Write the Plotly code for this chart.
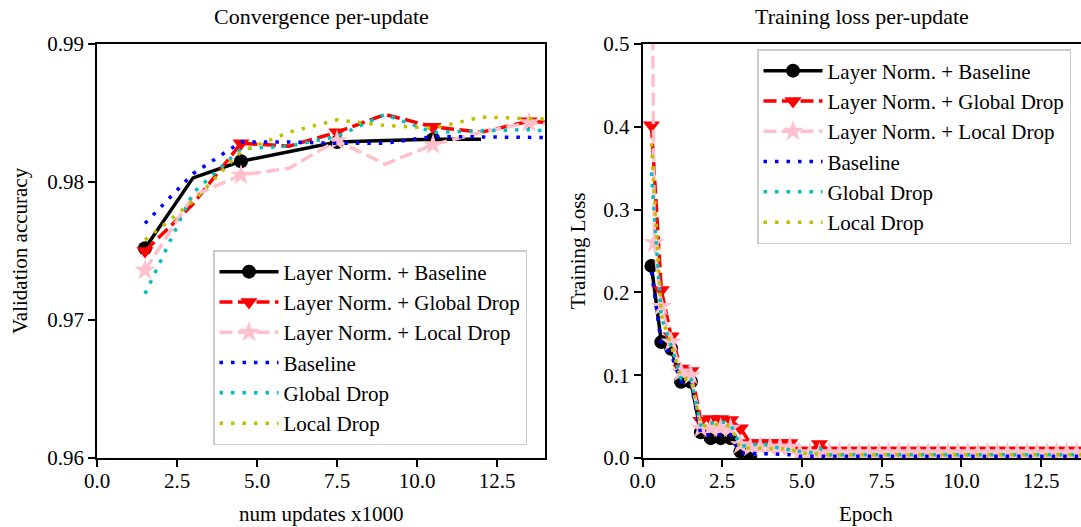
import plotly.graph_objects as go

# ---------------- left panel: validation accuracy vs. updates ----------------
updates = [1.5, 3.0, 4.5, 6.0, 7.5, 9.0, 10.5, 12.0, 13.5, 15.0]
acc_ln_baseline = [0.9752, 0.9803, 0.9815, 0.9822, 0.9829, 0.9830, 0.9831, 0.9831]
acc_ln_global = [0.9750, 0.9784, 0.9828, 0.9826, 0.9836, 0.9849, 0.9840, 0.9836, 0.9844, 0.9842]
acc_ln_local = [0.9736, 0.9790, 0.9805, 0.9810, 0.9830, 0.9813, 0.9827, 0.9836, 0.9843, 0.9841]
acc_baseline = [0.9770, 0.9806, 0.9829, 0.9829, 0.9828, 0.9828, 0.9833, 0.9833, 0.9833, 0.9832]
acc_global = [0.9719, 0.9792, 0.9824, 0.9826, 0.9833, 0.9849, 0.9836, 0.9837, 0.9838, 0.9835]
acc_local = [0.9758, 0.9786, 0.9822, 0.9836, 0.9845, 0.9841, 0.9839, 0.9847, 0.9846, 0.9845]

# ---------------- right panel: training loss vs. epoch ----------------
epochs = [0.28, 0.59, 0.90, 1.21, 1.52, 1.83, 2.14, 2.45, 2.76, 3.07,
          3.38, 3.69, 4.00, 4.31, 4.62, 4.93, 5.24, 5.55, 5.86, 6.17,
          6.48, 6.79, 7.10, 7.41, 7.72, 8.03, 8.34, 8.65, 8.96, 9.27,
          9.58, 9.89, 10.20, 10.51, 10.82, 11.13, 11.44, 11.75, 12.06, 12.37,
          12.68, 12.99, 13.30, 13.61, 13.92]
epochs_ln_local = [0.30, 0.37, 0.59, 0.90, 1.21, 1.52, 1.83, 2.14, 2.45, 2.76,
                   3.07, 3.38, 3.69, 4.00, 4.31, 4.62, 4.93, 5.24, 5.55, 5.86,
                   6.17, 6.48, 6.79, 7.10, 7.41, 7.72, 8.03, 8.34, 8.65, 8.96,
                   9.27, 9.58, 9.89, 10.20, 10.51, 10.82, 11.13, 11.44, 11.75, 12.06,
                   12.37, 12.68, 12.99, 13.30, 13.61, 13.92]

loss_ln_baseline = [0.232, 0.140, 0.132, 0.092, 0.092, 0.031, 0.024, 0.024, 0.024, 0.008,
                    0.003]
loss_ln_global = [0.402, 0.203, 0.147, 0.108, 0.105, 0.045, 0.047, 0.047, 0.046, 0.036,
                  0.018, 0.018, 0.018, 0.018, 0.018, 0.009, 0.009, 0.017, 0.009, 0.009,
                  0.009, 0.009, 0.009, 0.009, 0.009, 0.009, 0.009, 0.009, 0.009, 0.009,
                  0.009, 0.009, 0.009, 0.009, 0.009, 0.009, 0.009, 0.009, 0.009, 0.009,
                  0.009, 0.009, 0.009, 0.009, 0.009]
loss_ln_local = [0.620, 0.260, 0.183, 0.140, 0.104, 0.100, 0.036, 0.036, 0.036, 0.036,
                 0.016, 0.013, 0.013, 0.013, 0.013, 0.013, 0.006, 0.006, 0.006, 0.006,
                 0.006, 0.006, 0.006, 0.006, 0.006, 0.006, 0.006, 0.006, 0.006, 0.006,
                 0.006, 0.006, 0.006, 0.006, 0.006, 0.006, 0.006, 0.006, 0.006, 0.006,
                 0.006, 0.006, 0.006, 0.006, 0.006, 0.006]
loss_baseline = [0.225, 0.138, 0.125, 0.092, 0.090, 0.028, 0.028, 0.028, 0.028, 0.006,
                 0.005, 0.005, 0.005, 0.005, 0.004, 0.002, 0.002, 0.002, 0.002, 0.002,
                 0.002, 0.002, 0.002, 0.002, 0.002, 0.002, 0.002, 0.002, 0.002, 0.002,
                 0.002, 0.002, 0.002, 0.002, 0.002, 0.002, 0.002, 0.002, 0.002, 0.002,
                 0.002, 0.002, 0.002, 0.002, 0.002]
loss_global = [0.345, 0.170, 0.135, 0.096, 0.095, 0.040, 0.042, 0.044, 0.041, 0.015,
               0.014, 0.019, 0.014, 0.012, 0.010, 0.007, 0.006, 0.012, 0.004, 0.004,
               0.004, 0.004, 0.004, 0.004, 0.004, 0.004, 0.004, 0.004, 0.004, 0.004,
               0.004, 0.004, 0.004, 0.004, 0.004, 0.004, 0.004, 0.004, 0.004, 0.004,
               0.004, 0.004, 0.004, 0.004, 0.004]
loss_local = [0.380, 0.172, 0.136, 0.096, 0.095, 0.038, 0.040, 0.041, 0.038, 0.012,
              0.012, 0.012, 0.012, 0.011, 0.011, 0.006, 0.005, 0.005, 0.004, 0.004,
              0.004, 0.004, 0.004, 0.004, 0.004, 0.004, 0.004, 0.004, 0.004, 0.004,
              0.004, 0.004, 0.004, 0.004, 0.004, 0.004, 0.004, 0.004, 0.004, 0.004,
              0.004, 0.004, 0.004, 0.004, 0.004]

labels = ["Layer Norm. + Baseline", "Layer Norm. + Global Drop", "Layer Norm. + Local Drop",
          "Baseline", "Global Drop", "Local Drop"]

# ---------------- styling ----------------
W, H = 1081, 527
FONT = "Liberation Serif"
FS = 21
LW = 3.5
DASH = "13px,5.5px"
DOT = "3.5px,8px"

styles = [
    dict(color="#000000", dash="solid", symbol="circle", size=14),
    dict(color="#ff0000", dash=DASH, symbol="triangle-down", size=15),
    dict(color="#ffc0cb", dash=DASH, symbol="star", size=16),
    dict(color="#0000ff", dash=DOT, symbol=None, size=0),
    dict(color="#00bfbf", dash=DOT, symbol=None, size=0),
    dict(color="#bfbf00", dash=DOT, symbol=None, size=0),
]

fig = go.Figure()

left_series = [acc_ln_baseline, acc_ln_global, acc_ln_local, acc_baseline, acc_global, acc_local]
for name, ys, st in zip(labels, left_series, styles):
    xs = updates[:len(ys)]
    tr = dict(x=xs, y=ys, name=name, legend="legend", xaxis="x", yaxis="y",
              line=dict(color=st["color"], width=LW, dash=st["dash"]))
    if st["symbol"]:
        # marker on every other logged point; the rest are drawn as empty glyphs
        syms = [st["symbol"] if i % 2 == 0 else "line-ns" for i in range(len(xs))]
        tr.update(mode="lines+markers",
                  marker=dict(color=st["color"], size=st["size"], symbol=syms, line=dict(width=0)))
    else:
        tr.update(mode="lines")
    fig.add_trace(go.Scatter(**tr))

right_series = [(epochs, loss_ln_baseline), (epochs, loss_ln_global), (epochs_ln_local, loss_ln_local),
                (epochs, loss_baseline), (epochs, loss_global), (epochs, loss_local)]
for name, (xs_all, ys), st in zip(labels, right_series, styles):
    xs = xs_all[:len(ys)]
    tr = dict(x=xs, y=ys, name=name, legend="legend2", xaxis="x2", yaxis="y2",
              line=dict(color=st["color"], width=LW, dash=st["dash"]))
    if st["symbol"]:
        tr.update(mode="lines+markers",
                  marker=dict(color=st["color"], size=st["size"], symbol=st["symbol"], line=dict(width=0)))
    else:
        tr.update(mode="lines")
    fig.add_trace(go.Scatter(**tr))

axis_common = dict(showline=True, linecolor="black", linewidth=1.8, ticks="outside", ticklen=7,
                   tickwidth=1.6, tickcolor="black", showgrid=False, zeroline=False,
                   automargin=False,
                   tickfont=dict(family=FONT, size=FS, color="black"))

xticks = dict(tickmode="array", tickvals=[0, 2.5, 5, 7.5, 10, 12.5],
              ticktext=["0.0", "2.5", "5.0", "7.5", "10.0", "12.5"], ticklabelstandoff=-4)

ydom = [69 / H, 483 / H]
legend_common = dict(xanchor="left", yanchor="top", bgcolor="rgba(255,255,255,0.8)",
                     bordercolor="#cccccc", borderwidth=1.5, itemwidth=59,
                     font=dict(family=FONT, size=FS, color="black"))
fig.update_layout(
    width=W, height=H, margin=dict(l=0, r=0, t=0, b=0, autoexpand=False),
    paper_bgcolor="white", plot_bgcolor="white",
    font=dict(family=FONT, size=FS, color="black"),
    xaxis=dict(domain=[97 / W, 545 / W], range=[0, 14], mirror=True, anchor="y",
               **xticks, **axis_common),
    yaxis=dict(domain=ydom, range=[0.96, 0.99], tickmode="array",
               tickvals=[0.96, 0.97, 0.98, 0.99], ticktext=["0.96", "0.97", "0.98", "0.99"],
               mirror=True, anchor="x", **axis_common),
    xaxis2=dict(domain=[642.5 / W, 1.0], range=[0, 13.75], mirror=True, anchor="y2",
                **xticks, **axis_common),
    yaxis2=dict(domain=ydom, range=[0, 0.5], tickmode="array",
                tickvals=[0, 0.1, 0.2, 0.3, 0.4, 0.5], ticktext=["0.0", "0.1", "0.2", "0.3", "0.4", "0.5"],
                mirror=False, anchor="x2", **axis_common),
    legend=dict(x=213 / W, y=1 - 250 / H, **legend_common),
    legend2=dict(x=757 / W, y=1 - 49 / H, **legend_common),
)

texts = [
    dict(text="Convergence per-update", x=321 / W, y=1 - 17 / H, textangle=0, size=22),
    dict(text="Training loss per-update", x=862 / W, y=1 - 17 / H, textangle=0, size=22),
    dict(text="num updates x1000", x=321 / W, y=1 - 514 / H, textangle=0, size=FS),
    dict(text="Epoch", x=866 / W, y=1 - 514 / H, textangle=0, size=FS),
    dict(text="Validation accuracy", x=20 / W, y=1 - 251 / H, textangle=-90, size=FS),
    dict(text="Training Loss", x=578 / W, y=1 - 251 / H, textangle=-90, size=FS),
]
for t in texts:
    sz = t.pop("size")
    fig.add_annotation(xref="paper", yref="paper", xanchor="center", yanchor="middle",
                       showarrow=False, font=dict(family=FONT, size=sz, color="black"), **t)

fig.write_html("out.html")
